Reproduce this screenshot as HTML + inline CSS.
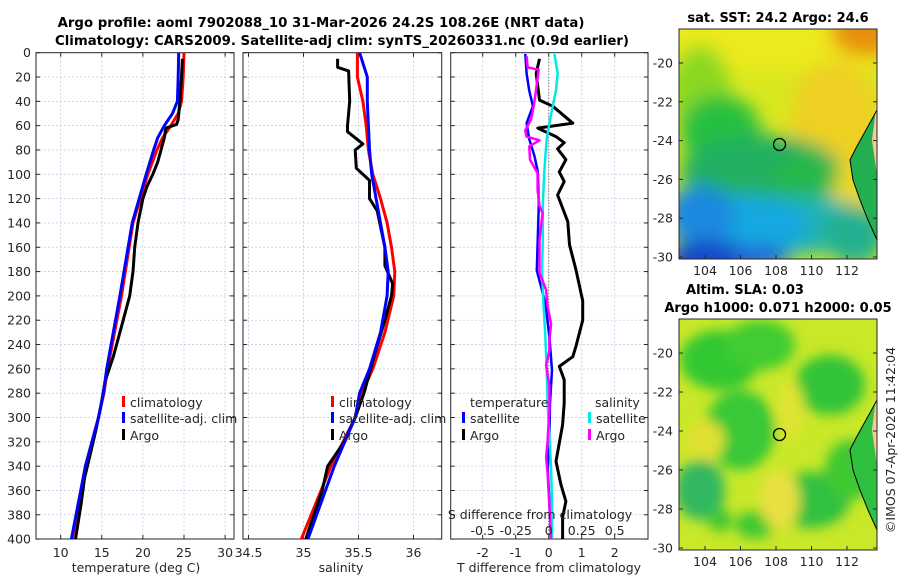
<!DOCTYPE html>
<html><head><meta charset="utf-8">
<style>
html,body{margin:0;padding:0;background:#fff;}
svg{display:block;font-family:"DejaVu Sans","Liberation Sans",sans-serif;}
.tk{font-size:12.5px;fill:#262626;}
.ttl{font-size:13px;font-weight:bold;fill:#000;}
.mttl{font-size:13.3px;font-weight:bold;fill:#000;}
</style></head>
<body>
<svg id="chart" width="900" height="580" viewBox="0 0 900 580" xmlns="http://www.w3.org/2000/svg">
<defs>
 <filter id="blur8" x="-20%" y="-20%" width="140%" height="140%"><feGaussianBlur stdDeviation="9"/></filter>
 <filter id="blur5" x="-20%" y="-20%" width="140%" height="140%"><feGaussianBlur stdDeviation="6"/></filter>
 <clipPath id="clipM1"><rect x="679" y="29" width="198" height="230"/></clipPath>
 <clipPath id="clipM2"><rect x="679" y="319" width="198" height="231"/></clipPath>
 <clipPath id="clipP1"><rect x="36" y="52.7" width="198" height="486.3"/></clipPath>
 <clipPath id="clipP2"><rect x="243" y="52.7" width="198.7" height="486.3"/></clipPath>
 <clipPath id="clipP3"><rect x="450.7" y="52.7" width="197.3" height="486.3"/></clipPath>
</defs>

<text class="mttl" x="321" y="27" text-anchor="middle">Argo profile: aoml 7902088_10 31-Mar-2026 24.2S 108.26E (NRT data)</text>
<text class="mttl" x="342" y="45" text-anchor="middle">Climatology: CARS2009. Satellite-adj clim: synTS_20260331.nc (0.9d earlier)</text>

<g id="p1"></g>
<g id="p2"></g>
<g id="p3"></g>

<!-- SST map -->
<g>
 <text class="ttl" x="778" y="22" text-anchor="middle">sat. SST: 24.2 Argo: 24.6</text>
 <g clip-path="url(#clipM1)">
  <rect x="679" y="29" width="198" height="230" fill="#d8e820"/>
  <g filter="url(#blur8)">
   <rect x="660" y="10" width="240" height="60" fill="#ecea1c"/>
   <ellipse cx="870" cy="32" rx="40" ry="25" fill="#e89010"/>
   <ellipse cx="835" cy="120" rx="45" ry="60" fill="#eed020"/>
   <ellipse cx="845" cy="190" rx="25" ry="30" fill="#ecd820"/>
   <ellipse cx="700" cy="90" rx="30" ry="45" fill="#8ad820"/>
   <ellipse cx="720" cy="130" rx="40" ry="35" fill="#28c040"/>
   <ellipse cx="760" cy="170" rx="80" ry="35" fill="#22b060"/>
   <ellipse cx="805" cy="180" rx="30" ry="25" fill="#28b84a"/>
   <ellipse cx="800" cy="225" rx="70" ry="30" fill="#20b4b0"/>
   <ellipse cx="740" cy="225" rx="70" ry="30" fill="#18a8e0"/>
   <ellipse cx="700" cy="215" rx="35" ry="30" fill="#1e88e0"/>
   <ellipse cx="710" cy="260" rx="45" ry="20" fill="#1848c8"/>
   <ellipse cx="760" cy="258" rx="30" ry="12" fill="#2060d8"/>
   <ellipse cx="855" cy="235" rx="30" ry="30" fill="#20b090"/>
  </g>
  <path d="M877,110 L866,130 L856,148 L850,160 L853,180 L860,200 L868,220 L877,240 Z" fill="#22b050"/>
  <path d="M877,100 L872,140 L877,175 Z" fill="#f8c898"/>
  <path d="M877,110 L866,130 L856,148 L850,160 L853,180 L860,200 L868,220 L877,240" fill="none" stroke="#000" stroke-width="1"/>
  <circle cx="779.5" cy="144.5" r="6" fill="none" stroke="#000" stroke-width="1.3"/>
 </g>
 <rect x="679" y="29" width="198" height="230" fill="none" stroke="#262626" stroke-width="1"/>
</g>

<!-- SLA map -->
<g>
 <text class="ttl" x="745" y="294" text-anchor="middle">Altim. SLA: 0.03</text>
 <text class="ttl" x="778" y="312" text-anchor="middle">Argo h1000: 0.071 h2000: 0.05</text>
 <g clip-path="url(#clipM2)">
  <rect x="679" y="319" width="198" height="231" fill="#c8e828"/>
  <g filter="url(#blur5)">
   <ellipse cx="720" cy="360" rx="40" ry="30" fill="#30c830"/>
   <ellipse cx="760" cy="345" rx="35" ry="25" fill="#40cc30"/>
   <ellipse cx="740" cy="430" rx="35" ry="40" fill="#38c838"/>
   <ellipse cx="830" cy="385" rx="35" ry="30" fill="#30c438"/>
   <ellipse cx="700" cy="490" rx="25" ry="30" fill="#30b860"/>
   <ellipse cx="810" cy="500" rx="40" ry="28" fill="#30c040"/>
   <ellipse cx="755" cy="525" rx="20" ry="14" fill="#40c830"/>
   <ellipse cx="720" cy="520" rx="12" ry="12" fill="#40c830"/>
   <ellipse cx="850" cy="470" rx="25" ry="30" fill="#40c830"/>
   <ellipse cx="705" cy="440" rx="20" ry="20" fill="#e0e030"/>
   <ellipse cx="790" cy="410" rx="14" ry="30" fill="#e0e430"/>
   <ellipse cx="780" cy="500" rx="20" ry="30" fill="#e8e040"/>
  </g>
  <path d="M877,400 L866,420 L856,438 L850,450 L853,470 L860,490 L868,510 L877,530 Z" fill="#30c040"/>
  <path d="M877,390 L872,430 L877,465 Z" fill="#f8c898"/>
  <path d="M877,400 L866,420 L856,438 L850,450 L853,470 L860,490 L868,510 L877,530" fill="none" stroke="#000" stroke-width="1"/>
  <circle cx="779.5" cy="434.5" r="6" fill="none" stroke="#000" stroke-width="1.3"/>
 </g>
 <rect x="679" y="319" width="198" height="231" fill="none" stroke="#262626" stroke-width="1"/>
</g>
<g id="mapticks"></g>
<text class="tk" x="0" y="0" transform="translate(895,440) rotate(-90)" text-anchor="middle">©IMOS 07-Apr-2026 11:42:04</text>

<script>
// ---- data ----
const tDepth   = [0, 20, 40, 50, 60, 70, 80, 100, 140, 200, 260, 280, 300, 340, 400];
const tClim    = [25.0, 24.9, 24.7, 24.3, 23.4, 22.4, 21.7, 20.6, 18.8, 17.4, 15.7, 15.25, 14.6, 13.0, 11.4];
const tSat     = [24.35, 24.3, 24.2, 23.6, 22.6, 21.8, 21.3, 20.4, 18.7, 17.2, 15.6, 15.2, 14.6, 13.0, 11.3];
const argoTDepth = [5, 20, 40, 55, 59, 62, 70, 80, 90, 100, 110, 120, 140, 160, 180, 200, 220, 240, 250, 260, 270, 290, 310, 330, 350, 370, 400];
const argoT    = [24.8, 24.7, 24.5, 24.3, 24.1, 22.8, 22.6, 22.2, 21.8, 21.2, 20.5, 20.0, 19.4, 19.0, 18.8, 18.4, 17.6, 16.8, 16.4, 15.9, 15.4, 14.9, 14.3, 13.6, 12.9, 12.5, 11.8];

const sDepth   = [0, 20, 40, 60, 80, 100, 120, 140, 160, 180, 200, 230, 260, 280, 300, 340, 400];
const sClim    = [35.49, 35.49, 35.54, 35.57, 35.59, 35.63, 35.70, 35.76, 35.80, 35.83, 35.82, 35.74, 35.63, 35.53, 35.47, 35.25, 34.98];
const sSat     = [35.51, 35.58, 35.58, 35.59, 35.60, 35.62, 35.66, 35.70, 35.74, 35.77, 35.76, 35.70, 35.60, 35.51, 35.47, 35.28, 35.04];
const argoSDepth = [5, 12, 15, 40, 60, 65, 75, 80, 95, 105, 120, 130, 160, 175, 190, 200, 220, 250, 280, 300, 320, 340, 360, 400];
const argoS    = [35.31, 35.31, 35.41, 35.42, 35.40, 35.40, 35.54, 35.47, 35.48, 35.60, 35.60, 35.67, 35.74, 35.74, 35.81, 35.80, 35.74, 35.64, 35.55, 35.47, 35.37, 35.22, 35.17, 35.02];

const dTDepth  = [5, 17, 39, 44, 58, 62, 69, 74, 79, 88, 98, 106, 117, 139, 158, 179, 204, 220, 241, 250, 258, 269, 288, 306, 336, 355, 369, 382, 400];
const dTArgo   = [-0.28, -0.38, -0.28, 0.12, 0.73, -0.33, 0.22, 0.47, 0.27, 0.52, 0.32, 0.47, 0.27, 0.58, 0.63, 0.83, 1.03, 1.03, 0.83, 0.73, 0.32, 0.47, 0.47, 0.42, 0.22, 0.37, 0.52, 0.42, 0.42];
const dSatDepth = [1, 17, 31, 44, 58, 71, 85, 98, 125, 152, 179, 206, 234, 261, 288, 315, 342, 369, 400];
const dTSat    = [-0.71, -0.67, -0.59, -0.48, -0.67, -0.59, -0.43, -0.33, -0.30, -0.33, -0.36, -0.10, 0.02, 0.10, 0.04, 0.02, -0.03, 0.02, 0.07];
const dSSat    = [0.043, 0.068, 0.055, 0.03, 0.005, -0.015, -0.025, -0.033, -0.045, -0.045, -0.05, -0.04, -0.025, -0.015, -0.008, 0.005, 0.018, 0.025, 0.025];
const dSArgoDepth = [3, 12, 14, 31, 44, 55, 64, 69, 72, 77, 88, 99, 113, 126, 132, 154, 181, 195, 209, 223, 236, 245, 257, 274, 293, 319, 333, 346, 373, 400];
const dSArgo   = [-0.167, -0.16, -0.076, -0.096, -0.114, -0.134, -0.178, -0.168, -0.07, -0.147, -0.142, -0.084, -0.084, -0.07, -0.046, -0.07, -0.07, -0.02, -0.008, 0.018, 0.005, 0.005, -0.02, 0.005, 0.005, -0.008, -0.02, -0.008, 0.005, 0.018];

const depthTicks = [0,20,40,60,80,100,120,140,160,180,200,220,240,260,280,300,320,340,360,380,400];
const tTicks = [10,15,20,25,30];
const sTicks = [34.5,35,35.5,36];
const dTicks = [-2,-1,0,1,2];
const sDiffTicks = ["-0.5","-0.25","0","0.25","0.5"];
const sDiffVals = [-0.5,-0.25,0,0.25,0.5];
const latTicks = [-20,-22,-24,-26,-28,-30];
const lonTicks = [104,106,108,110,112];

// ---- scales ----
const NS = 'http://www.w3.org/2000/svg';
const Y0 = 52.7, YK = 1.216, YB = 539;
const yD = d => Y0 + d*YK;
const xT = t => 60.7 + (t-10)*8.22;
const xS = s => 303.5 + (s-35)*110;
const xDT = v => 548.7 + v*33;
const xDS = v => 548.7 + v*132;
const yLat1 = l => 63 + (-20 - l)*19.4;
const yLat2 = l => 353 + (-20 - l)*19.5;
const xLon = l => 705 + (l-104)*17.75;

function mk(tag, attrs, parent){
  const e = document.createElementNS(NS, tag);
  for (const k in attrs) e.setAttribute(k, attrs[k]);
  parent.appendChild(e); return e;
}
function txt(parent, x, y, s, anchor, cls){
  const t = mk('text', {x:x, y:y, 'text-anchor':anchor||'middle', class:cls||'tk'}, parent);
  t.textContent = s; return t;
}
function panel(g, x0, x1, xticks, xfn, showY){
  depthTicks.forEach(d=>{
    const l = mk('line',{x1:x0,x2:x1,y1:yD(d),y2:yD(d),stroke:'#c3cbe8','stroke-width':0.8,'stroke-dasharray':'2,2'},g);
    
    
  });
  xticks.forEach(v=>{
    const x = xfn(v);
    if (x > x0+1 && x < x1-1){
      const l = mk('line',{x1:x,x2:x,y1:Y0,y2:YB,stroke:'#c3cbe8','stroke-width':0.8,'stroke-dasharray':'2,2'},g);
      
      
    }
  });
  const r = mk('rect',{x:x0,y:Y0,width:x1-x0,height:YB-Y0,fill:'none',stroke:'#262626','stroke-width':1},g);
  
  
  depthTicks.forEach(d=>{
    mk('line',{x1:x0,x2:x0+4,y1:yD(d),y2:yD(d),stroke:'#262626'},g);
    mk('line',{x1:x1,x2:x1-4,y1:yD(d),y2:yD(d),stroke:'#262626'},g);
    if (showY){
      const t = txt(g, 31, yD(d)+4.5, String(d), 'end');
      
      
    }
  });
  xticks.forEach(v=>{
    const x = xfn(v);
    mk('line',{x1:x,x2:x,y1:YB,y2:YB-4,stroke:'#262626'},g);
    mk('line',{x1:x,x2:x,y1:Y0,y2:Y0+4,stroke:'#262626'},g);
    const t = txt(g, x, 557, String(v));
    
    
  });
}
function line(g, depths, vals, xfn, color, w, name, clip){
  const pts = depths.map((d,i)=> xfn(vals[i]).toFixed(1)+','+yD(d).toFixed(1)).join(' ');
  const p = mk('polyline',{points:pts,fill:'none',stroke:color,'stroke-width':w,'stroke-linejoin':'round','clip-path':'url(#'+clip+')'},g);
  
  
}
function legItem(g, x, y, color, label, name){
  mk('rect',{x:x,y:y-11,width:3,height:11,fill:color},g);
  const t = txt(g, x+8, y, label, 'start');
  
  
}

// panel 1
const p1 = document.getElementById('p1');
panel(p1, 36, 234, tTicks, xT, true);
line(p1, tDepth, tClim, xT, '#ff0000', 3, 'temperature-climatology-line', 'clipP1');
line(p1, argoTDepth, argoT, xT, '#000000', 3, 'temperature-argo-line', 'clipP1');
line(p1, tDepth, tSat, xT, '#0000ff', 3, 'temperature-satellite-line', 'clipP1');
legItem(p1, 122, 407, '#ff0000', 'climatology', 'legend-climatology');
legItem(p1, 122, 423, '#0000ff', 'satellite-adj. clim', 'legend-satellite-adj');
legItem(p1, 122, 440, '#000000', 'Argo', 'legend-argo');
let xl = txt(p1, 136, 572, 'temperature (deg C)');



// panel 2
const p2 = document.getElementById('p2');
panel(p2, 243, 441.7, sTicks, xS, false);
line(p2, sDepth, sClim, xS, '#ff0000', 3, 'salinity-climatology-line', 'clipP2');
line(p2, argoSDepth, argoS, xS, '#000000', 3, 'salinity-argo-line', 'clipP2');
line(p2, sDepth, sSat, xS, '#0000ff', 3, 'salinity-satellite-line', 'clipP2');
legItem(p2, 331, 407, '#ff0000', 'climatology', 'legend-climatology-sal');
legItem(p2, 331, 423, '#0000ff', 'satellite-adj. clim', 'legend-satellite-adj-sal');
legItem(p2, 331, 440, '#000000', 'Argo', 'legend-argo-sal');
xl = txt(p2, 341, 572, 'salinity');



// panel 3
const p3 = document.getElementById('p3');
panel(p3, 450.7, 648, dTicks, xDT, false);
const zl = mk('line',{x1:xDT(0),x2:xDT(0),y1:Y0,y2:YB,stroke:'#555','stroke-width':1,'stroke-dasharray':'1,2'},p3);


line(p3, dSatDepth, dTSat, xDT, '#0000ff', 2.5, 'tdiff-satellite-line', 'clipP3');
line(p3, dTDepth, dTArgo, xDT, '#000000', 3, 'tdiff-argo-line', 'clipP3');
line(p3, dSatDepth, dSSat, xDS, '#00e8e8', 2.5, 'sdiff-satellite-line', 'clipP3');
line(p3, dSArgoDepth, dSArgo, xDS, '#ff00ff', 2.5, 'sdiff-argo-line', 'clipP3');
let lt = txt(p3, 470, 407, 'temperature', 'start');


lt = txt(p3, 595, 407, 'salinity', 'start');


legItem(p3, 462, 423, '#0000ff', 'satellite', 'legend-t-satellite');
legItem(p3, 462, 440, '#000000', 'Argo', 'legend-t-argo');
legItem(p3, 588, 423, '#00e8e8', 'satellite', 'legend-s-satellite');
legItem(p3, 588, 440, '#ff00ff', 'Argo', 'legend-s-argo');
lt = txt(p3, 540, 519, 'S difference from climatology');


sDiffVals.forEach((v,i)=>{
  const t = txt(p3, xDS(v), 535, sDiffTicks[i]);
  
  
});
xl = txt(p3, 549, 572, 'T difference from climatology');



// map ticks
const mt = document.getElementById('mapticks');
latTicks.forEach(l=>{
  [yLat1(l), yLat2(l)].forEach(y=>{
    mk('line',{x1:679,x2:683,y1:y,y2:y,stroke:'#262626'},mt);
    mk('line',{x1:877,x2:873,y1:y,y2:y,stroke:'#262626'},mt);
    const t = txt(mt, 673, y+4.5, String(l), 'end');
    
    
  });
});
lonTicks.forEach(l=>{
  const x = xLon(l);
  [[259,275],[550,566]].forEach(([yb,yt])=>{
    mk('line',{x1:x,x2:x,y1:yb,y2:yb-4,stroke:'#262626'},mt);
    const t = txt(mt, x, yt, String(l));
    
    
  });
});
</script>
</svg>
</body></html>
